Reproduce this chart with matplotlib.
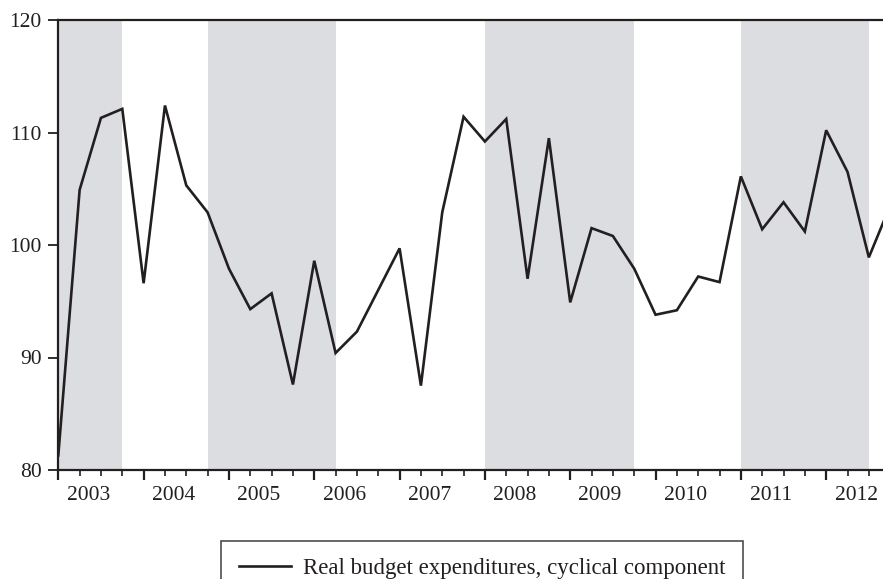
import matplotlib
matplotlib.use("Agg")
import matplotlib.pyplot as plt
from matplotlib.ticker import FixedLocator, NullFormatter
from matplotlib.lines import Line2D

# ---- data ----
years = list(range(2003, 2013))
quarters = [f"{y}Q{q}" for y in years for q in range(1, 5)]
values = [81.3, 104.9, 111.3, 112.1, 96.6, 112.4, 105.3, 102.9,
          97.9, 94.3, 95.7, 87.6, 98.6, 90.4, 92.3, 96.0,
          99.7, 87.5, 102.9, 111.4, 109.2, 111.2, 97.0, 109.5,
          94.9, 101.5, 100.8, 97.9, 93.8, 94.2, 97.2, 96.7,
          106.1, 101.4, 103.8, 101.2, 110.2, 106.5, 98.9, 103.5]
shaded_start = ["2003Q1", "2004Q4", "2008Q1", "2011Q1"]
shaded_end = ["2003Q4", "2006Q2", "2009Q4", "2012Q3"]
y_ticks = [80, 90, 100, 110, 120]
series_label = "Real budget expenditures, cyclical component"

FONT = ["Liberation Serif", "DejaVu Serif"]
INK = "#231f20"
SHADE = "#dcdde0"

W, H = 883, 579
fig = plt.figure(figsize=(W / 100, H / 100), dpi=100)
left_px, top_px, bottom_px = 58.3, 20, 470
ax = fig.add_axes([left_px / W, 1 - bottom_px / H, (W - left_px) / W, (bottom_px - top_px) / H])

qpx = 21.33
x_idx = list(range(len(quarters)))

for s, e in zip(shaded_start, shaded_end):
    ax.axvspan(quarters.index(s), quarters.index(e), color=SHADE, lw=0, zorder=0)

ax.plot(x_idx, values, color=INK, lw=1.9, zorder=3, solid_joinstyle="miter")

ax.set_xlim(0, (W - left_px) / qpx)
ax.set_ylim(80, 120)

for side in ["top", "left", "bottom"]:
    ax.spines[side].set_color(INK)
    ax.spines[side].set_linewidth(1.6)
ax.spines["right"].set_visible(False)

ax.set_yticks(y_ticks)
ax.set_yticklabels([str(v) for v in y_ticks], fontfamily=FONT, fontsize=15.5, color=INK)
ax.tick_params(axis="y", direction="out", length=7, width=1.3, color=INK, pad=5)

ax.xaxis.set_major_locator(FixedLocator([4 * k for k in range(len(years))]))
ax.xaxis.set_minor_locator(FixedLocator(x_idx))
ax.xaxis.set_major_formatter(NullFormatter())
ax.tick_params(axis="x", which="major", direction="out", length=7.5, width=1.6, color=INK)
ax.tick_params(axis="x", which="minor", direction="out", length=4.5, width=1.2, color=INK)

trans = ax.get_xaxis_transform()
for k, yr in enumerate(years):
    ax.text(4 * k + 1.4, -30 / (bottom_px - top_px), str(yr), transform=trans,
            ha="center", va="baseline", fontfamily=FONT, fontsize=15.5, color=INK)

handle = Line2D([], [], color=INK, lw=1.9)
leg = fig.legend([handle], [series_label], loc="upper center",
                 bbox_to_anchor=(482 / W, 1 - 541 / H), frameon=True, fancybox=False,
                 prop={"family": FONT, "size": 16.5}, handlelength=2.3,
                 borderpad=0.75, handletextpad=0.5, borderaxespad=0)
leg.get_frame().set_edgecolor(INK)
leg.get_frame().set_linewidth(1.2)
for t in leg.get_texts():
    t.set_color(INK)

fig.savefig("out.png", dpi=100)
